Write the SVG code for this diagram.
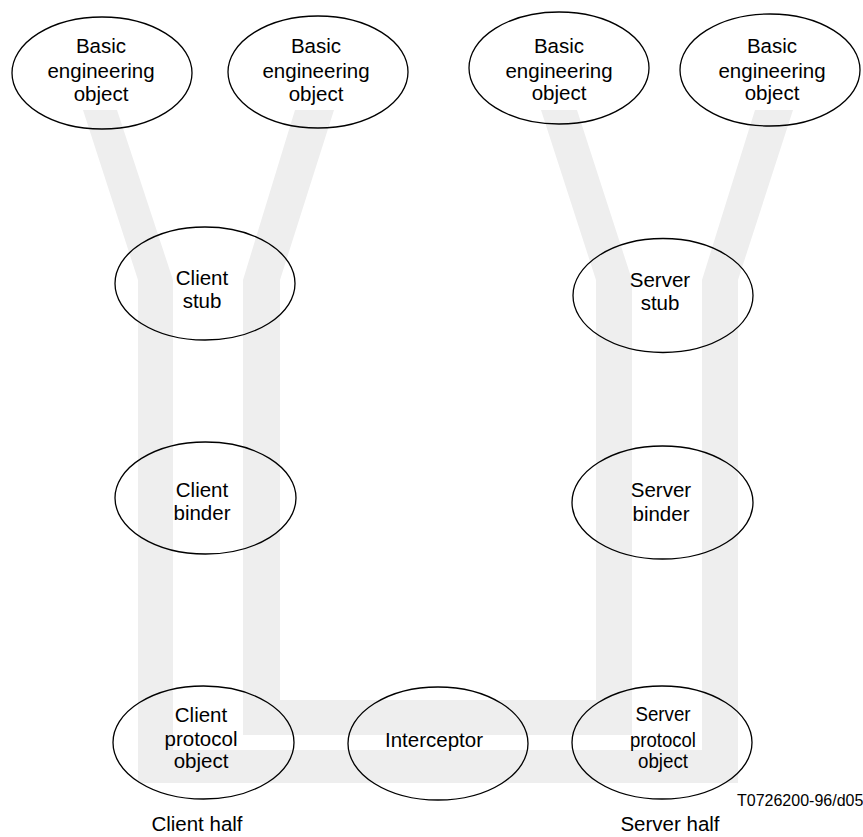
<svg xmlns="http://www.w3.org/2000/svg" width="863" height="837" viewBox="0 0 863 837">
<style>
.band{fill:#eeeeee;stroke:none}
.node ellipse{fill:none;stroke:#000;stroke-width:1.3}
text{font-family:"Liberation Sans",Arial,sans-serif;font-size:20.5px;fill:#000;text-anchor:middle}
.ref{font-size:16px;text-anchor:start}
</style>
<rect width="863" height="837" fill="#fff"/>
<g id="connectors">
<polygon class="band" points="83,110 117,110 173,280 173,750 702,750 702,280 755,110 793,110 738,280 738,783 138,783 138,280"/>
<polygon class="band" points="295,110 334,110 280,280 280,700 596,700 596,280 541,110 577,110 632,280 632,735 243,735 243,280"/>
</g>
<g id="beo1" class="node"><ellipse cx="102" cy="73" rx="90" ry="56"/><text x="101" y="53">Basic</text><text x="101" y="78">engineering</text><text x="101" y="101">object</text></g>
<g id="beo2" class="node"><ellipse cx="318" cy="72" rx="90" ry="56"/><text x="316" y="53">Basic</text><text x="316" y="78">engineering</text><text x="316" y="101">object</text></g>
<g id="beo3" class="node"><ellipse cx="559" cy="68" rx="90" ry="56"/><text x="559" y="53">Basic</text><text x="559" y="78">engineering</text><text x="559" y="100">object</text></g>
<g id="beo4" class="node"><ellipse cx="770" cy="70" rx="90" ry="56"/><text x="772" y="53">Basic</text><text x="772" y="78">engineering</text><text x="772" y="100">object</text></g>
<g id="client-stub" class="node"><ellipse cx="205" cy="283.5" rx="90" ry="56.5"/><text x="202" y="285">Client</text><text x="202" y="308">stub</text></g>
<g id="server-stub" class="node"><ellipse cx="663" cy="295.5" rx="90" ry="57"/><text x="660" y="287">Server</text><text x="660" y="310">stub</text></g>
<g id="client-binder" class="node"><ellipse cx="205.5" cy="498" rx="90.5" ry="56"/><text x="202" y="497">Client</text><text x="202" y="520">binder</text></g>
<g id="server-binder" class="node"><ellipse cx="662.5" cy="502.5" rx="90.5" ry="56.5"/><text x="661" y="497">Server</text><text x="661" y="521">binder</text></g>
<g id="client-protocol" class="node"><ellipse cx="203.5" cy="742.5" rx="90.5" ry="56.5"/><text x="201" y="722">Client</text><text x="201" y="746">protocol</text><text x="201" y="768">object</text></g>
<g id="interceptor" class="node"><ellipse cx="438" cy="743.5" rx="90" ry="56.5"/><text x="434" y="747">Interceptor</text></g>
<g id="server-protocol" class="node"><ellipse cx="662" cy="742.5" rx="90" ry="56.5"/><text x="663" y="721" textLength="55" lengthAdjust="spacingAndGlyphs">Server</text><text x="663" y="747" textLength="66" lengthAdjust="spacingAndGlyphs">protocol</text><text x="663" y="768" textLength="50" lengthAdjust="spacingAndGlyphs">object</text></g>
<text x="197" y="831">Client half</text>
<text x="670" y="831">Server half</text>
<text class="ref" x="737" y="806">T0726200-96/d05</text>
</svg>
